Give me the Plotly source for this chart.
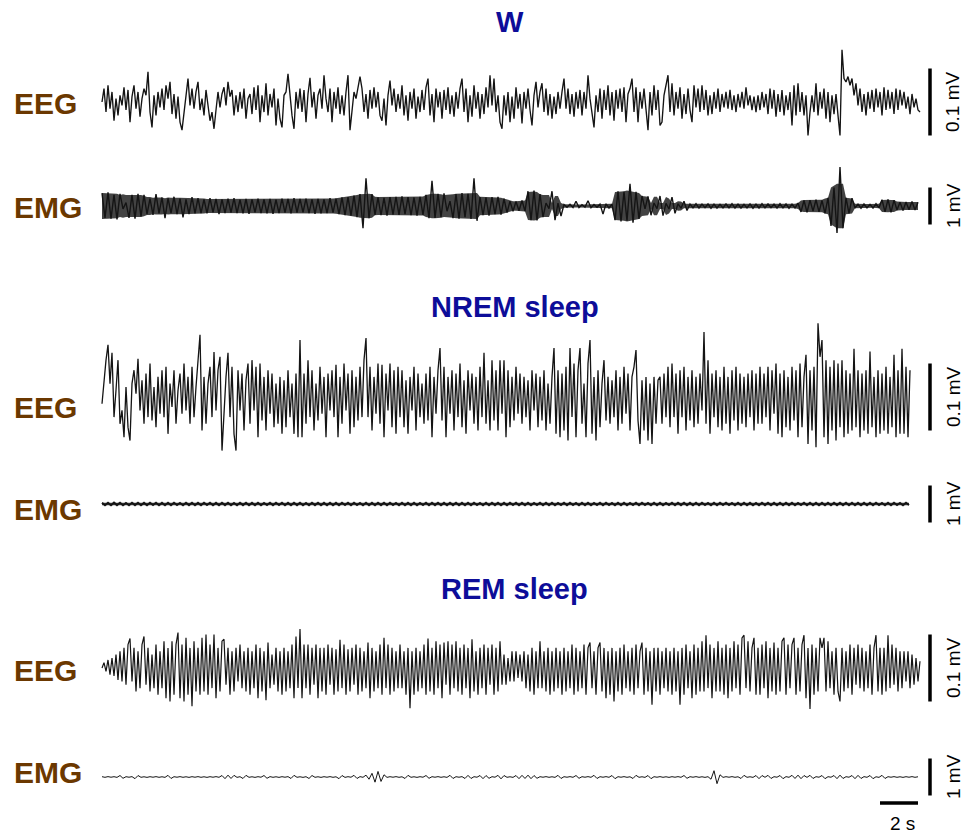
import numpy as np
import pandas as pd
import plotly.graph_objects as go

# ---- EEG traces (µV), one sample every 2/19 s ----
W_EEG = [
    0, 20, -15, 25, -10, 15, -28, 5, -20, 10,
    -5, 22, -12, 18, -30, 8, 25, -10, 15, -22,
    5, 20, 10, 45, -15, -38, 10, -20, 15, -8,
    20, -12, 25, 5, 30, -18, 12, -25, 8, -30,
    -42, -15, 10, 35, -5, 20, -10, 15, 30, -12,
    5, -20, 18, -10, -28, -15, -40, -12, 15, -8,
    12, 22, -5, 30, 8, 18, -20, 10, -15, 15,
    -10, 20, -25, 5, 12, -18, 22, -12, 25, -30,
    10, -15, 28, -20, 12, -8, 20, -35, 5, -25,
    -38, 10, 15, 42, 5, -20, -40, 15, -10, 20,
    -15, 18, -30, 12, 36, -8, 15, -25, 10, 20,
    -10, 40, 5, -15, 20, -30, 15, -10, 22, -18,
    10, -20, 15, 40, -42, -10, 15, 5, 25, 38,
    20, -15, 12, -25, 18, -10, 22, -8, 15, -20,
    -28, 5, -35, 10, 32, -5, 20, -15, 12, -10,
    25, -20, 10, -28, 15, -10, 20, -25, 8, -15,
    18, -12, 22, 35, -20, 12, -30, 20, -8, 15,
    -25, 18, -12, 22, -18, 10, -22, 15, -10, 20,
    35, -15, 20, -30, 10, -22, 25, -10, 15, -25,
    12, -18, 22, -8, 40, -5, 35, -15, 10, -30,
    -40, 10, -20, 15, -30, 8, -25, 22, -10, 12,
    -32, 15, -10, 20, -12, -35, 10, 30, -8, 15,
    28, -15, 20, -20, 12, -25, 8, -18, 15, -10,
    15, 35, -10, 20, -18, 12, -22, 15, -10, 18,
    -20, 15, -10, 40, 5, -15, -38, 10, -15, 20,
    -25, 18, -12, 25, -20, 15, -28, 18, -10, 20,
    -15, 22, -30, 12, 20, 35, -15, 22, -30, 15,
    -10, 20, -15, -42, 15, -20, 25, -12, 18, -35,
    -30, 10, 25, 40, -15, 28, -20, 15, -10, 22,
    -25, 12, -18, 20, -12, -30, 25, -8, 20, -15,
    25, -12, 18, -20, 10, -18, 15, -10, 20, -15,
    12, -8, 15, -10, 18, -12, 10, -15, 12, -8,
    15, -10, 22, -5, 10, -12, 8, -15, 10, -12,
    15, -8, 12, -18, 20, -10, 18, -22, 12, -15,
    18, -20, 10, -12, 15, -35, 25, -20, 28, -15,
    15, -20, 10, -50, -15, 10, -15, 28, -20, 15,
    -10, 20, -25, 15, -30, 10, -18, 12, -20, -50,
    78, 35, 30, 38, 25, 35, 10, 28, -5, 20,
    -15, 12, -20, 15, -10, 18, -15, 20, -8, 15,
    -20, 22, -12, 18, -10, 15, -18, 20, -12, 18,
    -5, 15, -10, 8, -18, 12, -8, 5, -12, -15,
]

NREM_EEG = [
    -10, 30, 55, 78, 20, 66, -30, 10, 55, -40,
    -20, -60, 15, -45, -65, 20, 40, 5, 57, -20,
    25, -40, 35, -30, 50, -35, 15, -45, 30, -25,
    40, -30, 45, -55, 20, -15, 40, -40, 10, 35,
    -25, 50, -20, 30, -40, 45, -30, 15, 60, 93,
    -50, 30, -40, 20, 45, -30, 67, -20, 40, 60,
    -80, -20, 30, 66, -30, 45, -55, -80, 40, -20,
    35, -50, 25, 50, -40, 55, -20, 45, -60, 50,
    -35, 30, -50, 40, -25, 35, -45, 20, -40, 30,
    -55, 25, -45, 40, -30, 20, -55, 35, -60, 85,
    -60, 35, -40, 55, -30, 40, -50, 20, -35, 45,
    -25, 30, -60, 35, -20, 40, -30, 48, -60, 30,
    -40, 50, -20, 35, -55, 40, -45, 30, -35, 45,
    -30, 55, 88, -30, 45, -50, 30, -25, 50, -40,
    48, -60, 35, -20, 50, -45, 40, -55, 45, -30,
    40, -45, 25, -55, 30, -20, 45, -50, 35, -30,
    20, -40, 35, -35, 45, -60, 30, -25, 40, 73,
    -35, 45, -60, 30, -25, 40, -50, 35, -30, 50,
    -45, 25, -55, 40, -20, 35, -40, 30, -50, 45,
    -30, 66, -40, 25, -50, 55, -35, 40, -50, 55,
    -25, 55, -60, 40, -45, 30, -35, 45, -25, 35,
    -40, 30, -30, 25, -50, 40, -20, 35, -45, 30,
    -35, 40, -50, 20, -40, 30, 73, -55, 40, -60,
    35, -50, 45, -65, 73, -30, 50, -60, 40, 73,
    -40, 20, -60, 50, 85, -55, 30, -65, 40, -45,
    20, 55, -35, 30, -40, 25, -30, 40, -50, 30,
    -40, 45, -25, 35, -50, 30, 45, 70, -35, -70,
    25, -50, 30, -65, 20, -70, 30, -40, 25, 30,
    -40, 35, -30, 45, -45, 50, -30, 35, -55, 40,
    -30, 45, -50, 30, -35, 40, -45, 30, -40, 35,
    -20, 97, -40, 55, -55, 35, -30, 40, -45, 30,
    -50, 45, -40, 30, -55, 40, -35, 45, -50, 35,
    -40, 30, -45, 35, -30, 40, -50, 35, -40, 45,
    -40, 35, -30, 45, -50, 40, -25, 50, -55, 35,
    -60, 40, -45, 30, -50, 45, -35, 40, -60, 50,
    -45, 30, 63, -70, 40, -50, 45, -75, 110, 60,
    85, -60, 55, -70, 45, -50, 55, -65, 50, -45,
    55, -60, 40, -55, 35, -50, 72, -45, 40, -60,
    35, -50, 40, -55, 68, -45, 30, -60, 40, -55,
    35, -50, 45, -55, 30, -45, 63, -60, 40, -55,
    72, -55, 45, -60, 40,
]

REM_EEG = [
    0, 8, -5, 12, -10, 15, -12, 20, -18, 25,
    -20, 30, -25, 35, 44, -20, 30, -35, 25, -30,
    35, 47, -25, 30, -35, 20, -30, 35, -40, 25,
    -30, 40, -45, 30, -50, 40, -40, 35, 53, -45,
    35, -50, 45, -40, 30, -57, 40, -35, 30, -40,
    45, -35, 50, -40, 35, -30, 50, -45, 30, -35,
    40, 43, -25, 30, -40, 25, -35, 30, -20, 35,
    -30, 25, -35, 30, -40, 25, -30, 35, -45, 30,
    -35, 25, -48, 38, -30, 20, -25, 30, -35, 25,
    -40, 30, -35, 25, -30, 35, -45, 47, -30, 58,
    -45, 35, -30, 35, -40, 30, -25, 35, -45, 30,
    -35, 30, -40, 35, -25, 30, -40, 28, -35, 42,
    -30, 35, -40, 28, -35, 30, -25, 35, -40, 30,
    -35, 25, -30, 38, -45, 30, -35, 25, -30, 35,
    -40, 45, -30, 35, -40, 30, -35, 25, -30, 35,
    -30, 25, -40, 30, -60, 25, -40, 30, -35, 25,
    -30, 35, -40, 44, -35, 30, -40, 40, -30, 35,
    -45, 38, -25, 40, -40, 35, -30, 40, -35, 30,
    -40, 35, -30, 30, -45, 43, -35, 25, -40, 30,
    -30, 35, -40, 30, -25, 35, -40, 30, -35, 40,
    -25, 20, -25, 15, -20, 25, -20, 25, -15, 20,
    -20, 25, -30, 20, -35, 30, -40, 25, -30, 40,
    -30, 25, -35, 30, -40, 25, -35, 30, -30, 25,
    -40, 30, -35, 25, -30, 35, -40, 30, -35, 25,
    -30, 35, -40, 30, 38, -30, 25, -40, 30, 38,
    -35, 30, -45, 25, -40, 30, -50, 25, -35, 30,
    -40, 35, -30, 25, -35, 30, -40, 35, -30, 25,
    38, -40, 30, -35, 25, -55, 30, -35, 30, -40,
    25, -30, 30, -35, 25, -40, 30, -35, 25, -55,
    30, -40, 35, -30, 25, -45, 35, -40, 30, -35,
    40, -35, 49, -30, 35, -45, 30, -35, 40, -35,
    30, -40, 35, -45, 30, -35, 40, -30, 35, -40,
    45, 49, -30, 40, -35, 30, 45, -40, 30, -40,
    35, -30, 40, -45, 30, -35, 38, -40, 30, -35,
    40, 45, -40, 35, -30, 35, 45, -40, 30, -35,
    35, 49, -45, 30, -61, 35, -40, 30, -35, 45,
    30, 45, -35, 40, -30, 25, -40, 30, -35, -50,
    30, -35, 25, -30, 35, -40, 30, -25, 35, -30,
    30, -35, 25, -30, 35, -40, 30, 49, -35, 30,
    -40, 30, -35, 49, -30, 35, -25, 30, -35, 25,
    -30, 25, -20, 25, -30, 20, -25, 15, -20, 10,
]

# ---- EMG traces (µV), one sample every 3/19 s ----
W_EMG = [
    350, -320, 370, -340, 300, -360, 330,
    -80, 90,
    -320, 300, -340, 330, -280, 300,
    -220, 200, -240, 320, -200, 230, -330, 210, -190, 250, -220, 200, -310, 180, -220, 240, -200, 210,
    -190, 180, -200, 210, -170, 190, -220, 180, -190, 200,
    -180, 210, -190, 170, -200, 190, -210, 180, -170, 200,
    -190, 180, -200, 190, -210, 170, -190, 200, -180, 190,
    -200, 210, -180, 190, -170, 200, -190, 180, -210, 190,
    -200, 180, -190, 210, -180, 200, -220, 230, -250, 240,
    -260, 280, -300, 320,
    -600, 750,
    -330, 320,
    -240, 230, -250, 220, -260, 240, -230, 250, -240, 260, -220, 240, -250, 230, -260, 250, -240, 300,
    -330, 680,
    -320, 330, -300, 340,
    -140, 130,
    -330, 320, -340, 350, -300, 330, -350,
    750, -400,
    240, -250, 230, -260, 240, -220, 250, -230, 200, -180,
    130, -140, 120, -130, 150, -140,
    400, -380, 420, -390,
    320, -300,
    80, -70,
    400, -380,
    80, -270,
    40, -35, 45, -40, 130, -40, 35, -30, 140, -45, 40, -35,
    50, -220,
    60, -55, 50,
    -380, 400, -420, 380, -400, 600, -450, 380, -350,
    270, -80, 260, -250, 80, -70, 270, -260, 70, -80, 240, -200, 60, -60, 130, -120,
    55, -50, 60, -55, 50, -45, 55, -60, 50, -55,
    45, -50, 55, -50, 60, -55, 50, -55, 45, -50,
    55, -60, 50, -55, 60, -50, 55, -45, 50, -55,
    60, -50, 55, -60, 50, -55, 80,
    -160, 150, -170, 160, -140, 170, -160, 150, -200, 220,
    -540, 500, -730, 1050, -600,
    220, -200, 210,
    -55, 50, -60, 55, -50, 45, -55, 60, -50,
    170, -160, 180, -170, 160,
    -110, 100, -120, 110, -100, 120, -110, 100,
]

NREM_EMG = [
    35, -32, 30, -34, 36, -30, 32, -35, 28, -32,
    34, -30, 35, -32, 30, -34, 32, -28, 35, -34,
    30, -32, 34, -35, 32, -30, 28, -32, 35, -30,
    32, -34, 30, -32, 35, -28, 34, -32, 30, -35,
    34, -30, 32, -34, 28, -32, 35, -30, 32, -34,
    30, -35, 34, -32, 30, -30, 35, -34, 32, -28,
    34, -32, 30, -35, 32, -30, 34, -32, 28, -34,
    35, -30, 32, -34, 30, -32, 34, -35, 30, -32,
    32, -28, 35, -32, 34, -30, 30, -34, 32, -35,
    30, -32, 34, -30, 35, -34, 32, -30, 28, -32,
    34, -35, 30, -32, 32, -34, 30, -28, 35, -32,
    32, -30, 34, -34, 30, -32, 35, -30, 32, -34,
    30, -32, 34, -35, 32, -30, 28, -32, 34, -34,
    35, -30, 32, -32, 30, -34, 34, -28, 32, -35,
    30, -34, 35, -32, 30, -30, 32, -34, 34, -32,
    34, -32, 28, -30, 35, -34, 32, -30, 30, -35,
    32, -34, 34, -32, 30, -28, 35, -32, 32, -30,
    30, -35, 32, -34, 34, -32, 28, -30, 35, -32,
    34, -30, 30, -32, 32, -34, 35, -34, 30, -28,
    32, -32, 34, -30, 34, -35, 30, -32, 32, -34,
    35, -30, 30, -34, 32, -32, 34, -28, 35, -30,
    30, -32, 32, -35, 34, -34, 30, -32, 28, -34,
    32, -30, 35, -32, 30, -34, 32, -35, 34, -30,
    34, -32, 30, -28, 35, -32, 32, -34, 30, -34,
    30, -35, 34, -32, 32, -30, 34, -30, 35, -32,
    32, -34, 30, -32, 30, -34, 35, -32, 34, -30,
    28, -32, 34, -35, 32, -30, 30, -34, 32, -28,
]

REM_EMG = [
    8, -8, 10, -6, 8, -10, 40, -35, 8, -6,
    10, -45, 40, -8, 6, -10, 8, -6, 10, -8,
    6, -10, 45, -40, 8, -6, 10, -8, 6, -10,
    8, -6, 10, -8, 6, -10, 8, -6, 10, -8,
    40, -45, 50, -40, 45, -10, 8, -40, 45, -8,
    6, -10, 8, -6, 40, -35, 10, -8, 6, -10,
    8, -6, 10, -40, 45, -8, 6, -10, 8, -40,
    40, -8, 6, -10, 8, -6, 10, -8, 6, -45,
    40, -10, 8, -6, 45, -40, 10, -8, 50, -60,
    100, -140, 150, -120, 60, -10, 8, -6, 10, -8,
    6, -40, 45, -8, 6, -10, 8, -6, 40, -35,
    8, -6, 10, -8, 6, -10, 45, -40, 8, -6,
    10, -40, 45, -40, 8, -6, 40, -45, 40, -35,
    8, -6, 45, -50, 40, -8, 6, -10, 40, -45,
    45, -40, 50, -45, 40, -35, 8, -6, 10, -8,
    6, -10, 45, -40, 8, -6, 10, -8, 40, -35,
    8, -6, 10, -8, 45, -40, 8, -6, 10, -8,
    40, -45, 8, -6, 10, -8, 6, -40, 45, -8,
    6, -10, 40, -45, 8, -6, 10, -8, 6, -10,
    8, -6, 10, -8, 40, -35, 8, -6, 10, -8,
    6, -10, 8, -60, 170, -180, 60, -10, 8, -6,
    10, -8, 6, -40, 45, -8, 6, -10, 40, -45,
    40, -8, 45, -40, 8, -6, 40, -45, 10, -8,
    45, -40, 50, -45, 40, -10, 45, -40, 8, -6,
    40, -45, 8, -6, 40, -45, 50, -40, 8, -6,
    40, -45, 45, -40, 10, -8, 40, -45, 6, -10,
    45, -40, 8, -6, 10, -8, 6, -10, 8, -6,
    10, -8, 6,
]

STAGES = ["W", "NREM sleep", "REM sleep"]
EEG_BAR_UV = 100      # 0.1 mV
EMG_BAR_UV = 1000     # 1 mV
TIME_BAR_S = 2

# ---- page geometry ----
W, H = 968, 834
PX_PER_S = 19.0
DT_EEG = 2 / PX_PER_S
DT_EMG = 3 / PX_PER_S
X0_PX = 102
EEG_K = 0.67    # px per µV
EMG_K = 0.037   # px per µV

BROWN = "#6b3800"
BLUE = "#0d0d99"
INK = "#141414"
FONT = "Liberation Sans, Arial, sans-serif"


def px_t(px):
    return (px - X0_PX) / PX_PER_S


def paper_y(py):
    return 1 - py / H


def core_envelope(vals, win=5):
    """Running median of |signal|: the dense core of a muscle-tone band."""
    s = pd.Series(np.abs(np.asarray(vals, float)))
    return s.rolling(win, center=True, min_periods=1).median().to_numpy()


# (values, sample step, signal name, centre px, half band px, px per µV, bar µV, bar text,
#  label centre px, stroke width, draw dense core)
rows = [
    (W_EEG, DT_EEG, "EEG", 102, 55, EEG_K, EEG_BAR_UV, "0.1 mV", 103, 1.35, False),
    (W_EMG, DT_EMG, "EMG", 206, 45, EMG_K, EMG_BAR_UV, "1 mV", 207, 1.4, True),
    (NREM_EEG, DT_EEG, "EEG", 397, 82, EEG_K, EEG_BAR_UV, "0.1 mV", 407, 1.3, False),
    (NREM_EMG, DT_EMG, "EMG", 504, 30, EMG_K, EMG_BAR_UV, "1 mV", 509, 2.0, True),
    (REM_EEG, DT_EEG, "EEG", 668, 50, EEG_K, EEG_BAR_UV, "0.1 mV", 670, 1.2, False),
    (REM_EMG, DT_EMG, "EMG", 777, 36, EMG_K, EMG_BAR_UV, "1 mV", 772, 1.0, False),
]

fig = go.Figure()
layout = dict(
    width=W, height=H,
    margin=dict(l=0, r=0, t=0, b=0),
    paper_bgcolor="white", plot_bgcolor="white",
    showlegend=False,
    xaxis=dict(domain=[0, 1], range=[px_t(0), px_t(W)], visible=False, fixedrange=True),
)
shapes, annotations = [], []

for i, (vals, dt, name, cpx, half, k, bar, bar_txt, lab_px, lw, core) in enumerate(rows, start=1):
    yname = "y" if i == 1 else f"y{i}"
    ykey = "yaxis" if i == 1 else f"yaxis{i}"
    layout[ykey] = dict(
        domain=[paper_y(cpx + half), paper_y(cpx - half)],
        range=[-half / k, half / k],
        visible=False, fixedrange=True, anchor="x",
    )
    t = np.arange(len(vals)) * dt
    if core:
        env = core_envelope(vals)
        fig.add_trace(go.Scatter(x=t, y=-env, mode="lines", xaxis="x", yaxis=yname,
                                 line=dict(width=0, color=INK), hoverinfo="skip"))
        fig.add_trace(go.Scatter(x=t, y=env, mode="lines", xaxis="x", yaxis=yname,
                                 line=dict(width=0, color=INK), fill="tonexty",
                                 fillcolor="rgba(20,20,20,0.8)", hoverinfo="skip"))
    fig.add_trace(go.Scatter(
        x=t, y=vals, mode="lines", xaxis="x", yaxis=yname,
        line=dict(color=INK, width=lw), hoverinfo="skip",
    ))
    # amplitude calibration bar
    shapes.append(dict(type="line", xref="x", yref=yname,
                       x0=px_t(930), x1=px_t(930), y0=-bar / 2, y1=bar / 2,
                       line=dict(color="black", width=3.5)))
    annotations.append(dict(xref="x", yref=yname, x=px_t(953), y=0,
                            text=bar_txt, textangle=-90, showarrow=False,
                            font=dict(family=FONT, size=19, color="black")))
    annotations.append(dict(xref="paper", yref="paper", x=12 / W, y=paper_y(lab_px),
                            xanchor="left", yanchor="middle", text=f"<b>{name}</b>",
                            showarrow=False,
                            font=dict(family=FONT, size=30, color=BROWN)))

# stage titles
for stage, ty, tx in zip(STAGES, [22, 307, 589], [510, 515, 514]):
    annotations.append(dict(xref="paper", yref="paper", x=tx / W, y=paper_y(ty),
                            xanchor="center", yanchor="middle", text=f"<b>{stage}</b>",
                            showarrow=False,
                            font=dict(family=FONT, size=29, color=BLUE)))

# time calibration bar
t_end = px_t(918)
shapes.append(dict(type="line", xref="x", yref="paper",
                   x0=t_end - TIME_BAR_S, x1=t_end, y0=paper_y(803), y1=paper_y(803),
                   line=dict(color="black", width=3.5)))
annotations.append(dict(xref="x", yref="paper", x=t_end - TIME_BAR_S / 2 + 0.2, y=paper_y(823),
                        text=f"{TIME_BAR_S} s", showarrow=False, yanchor="middle",
                        font=dict(family=FONT, size=19, color="black")))

layout["shapes"] = shapes
layout["annotations"] = annotations
fig.update_layout(**layout)
fig.write_html("out.html")
